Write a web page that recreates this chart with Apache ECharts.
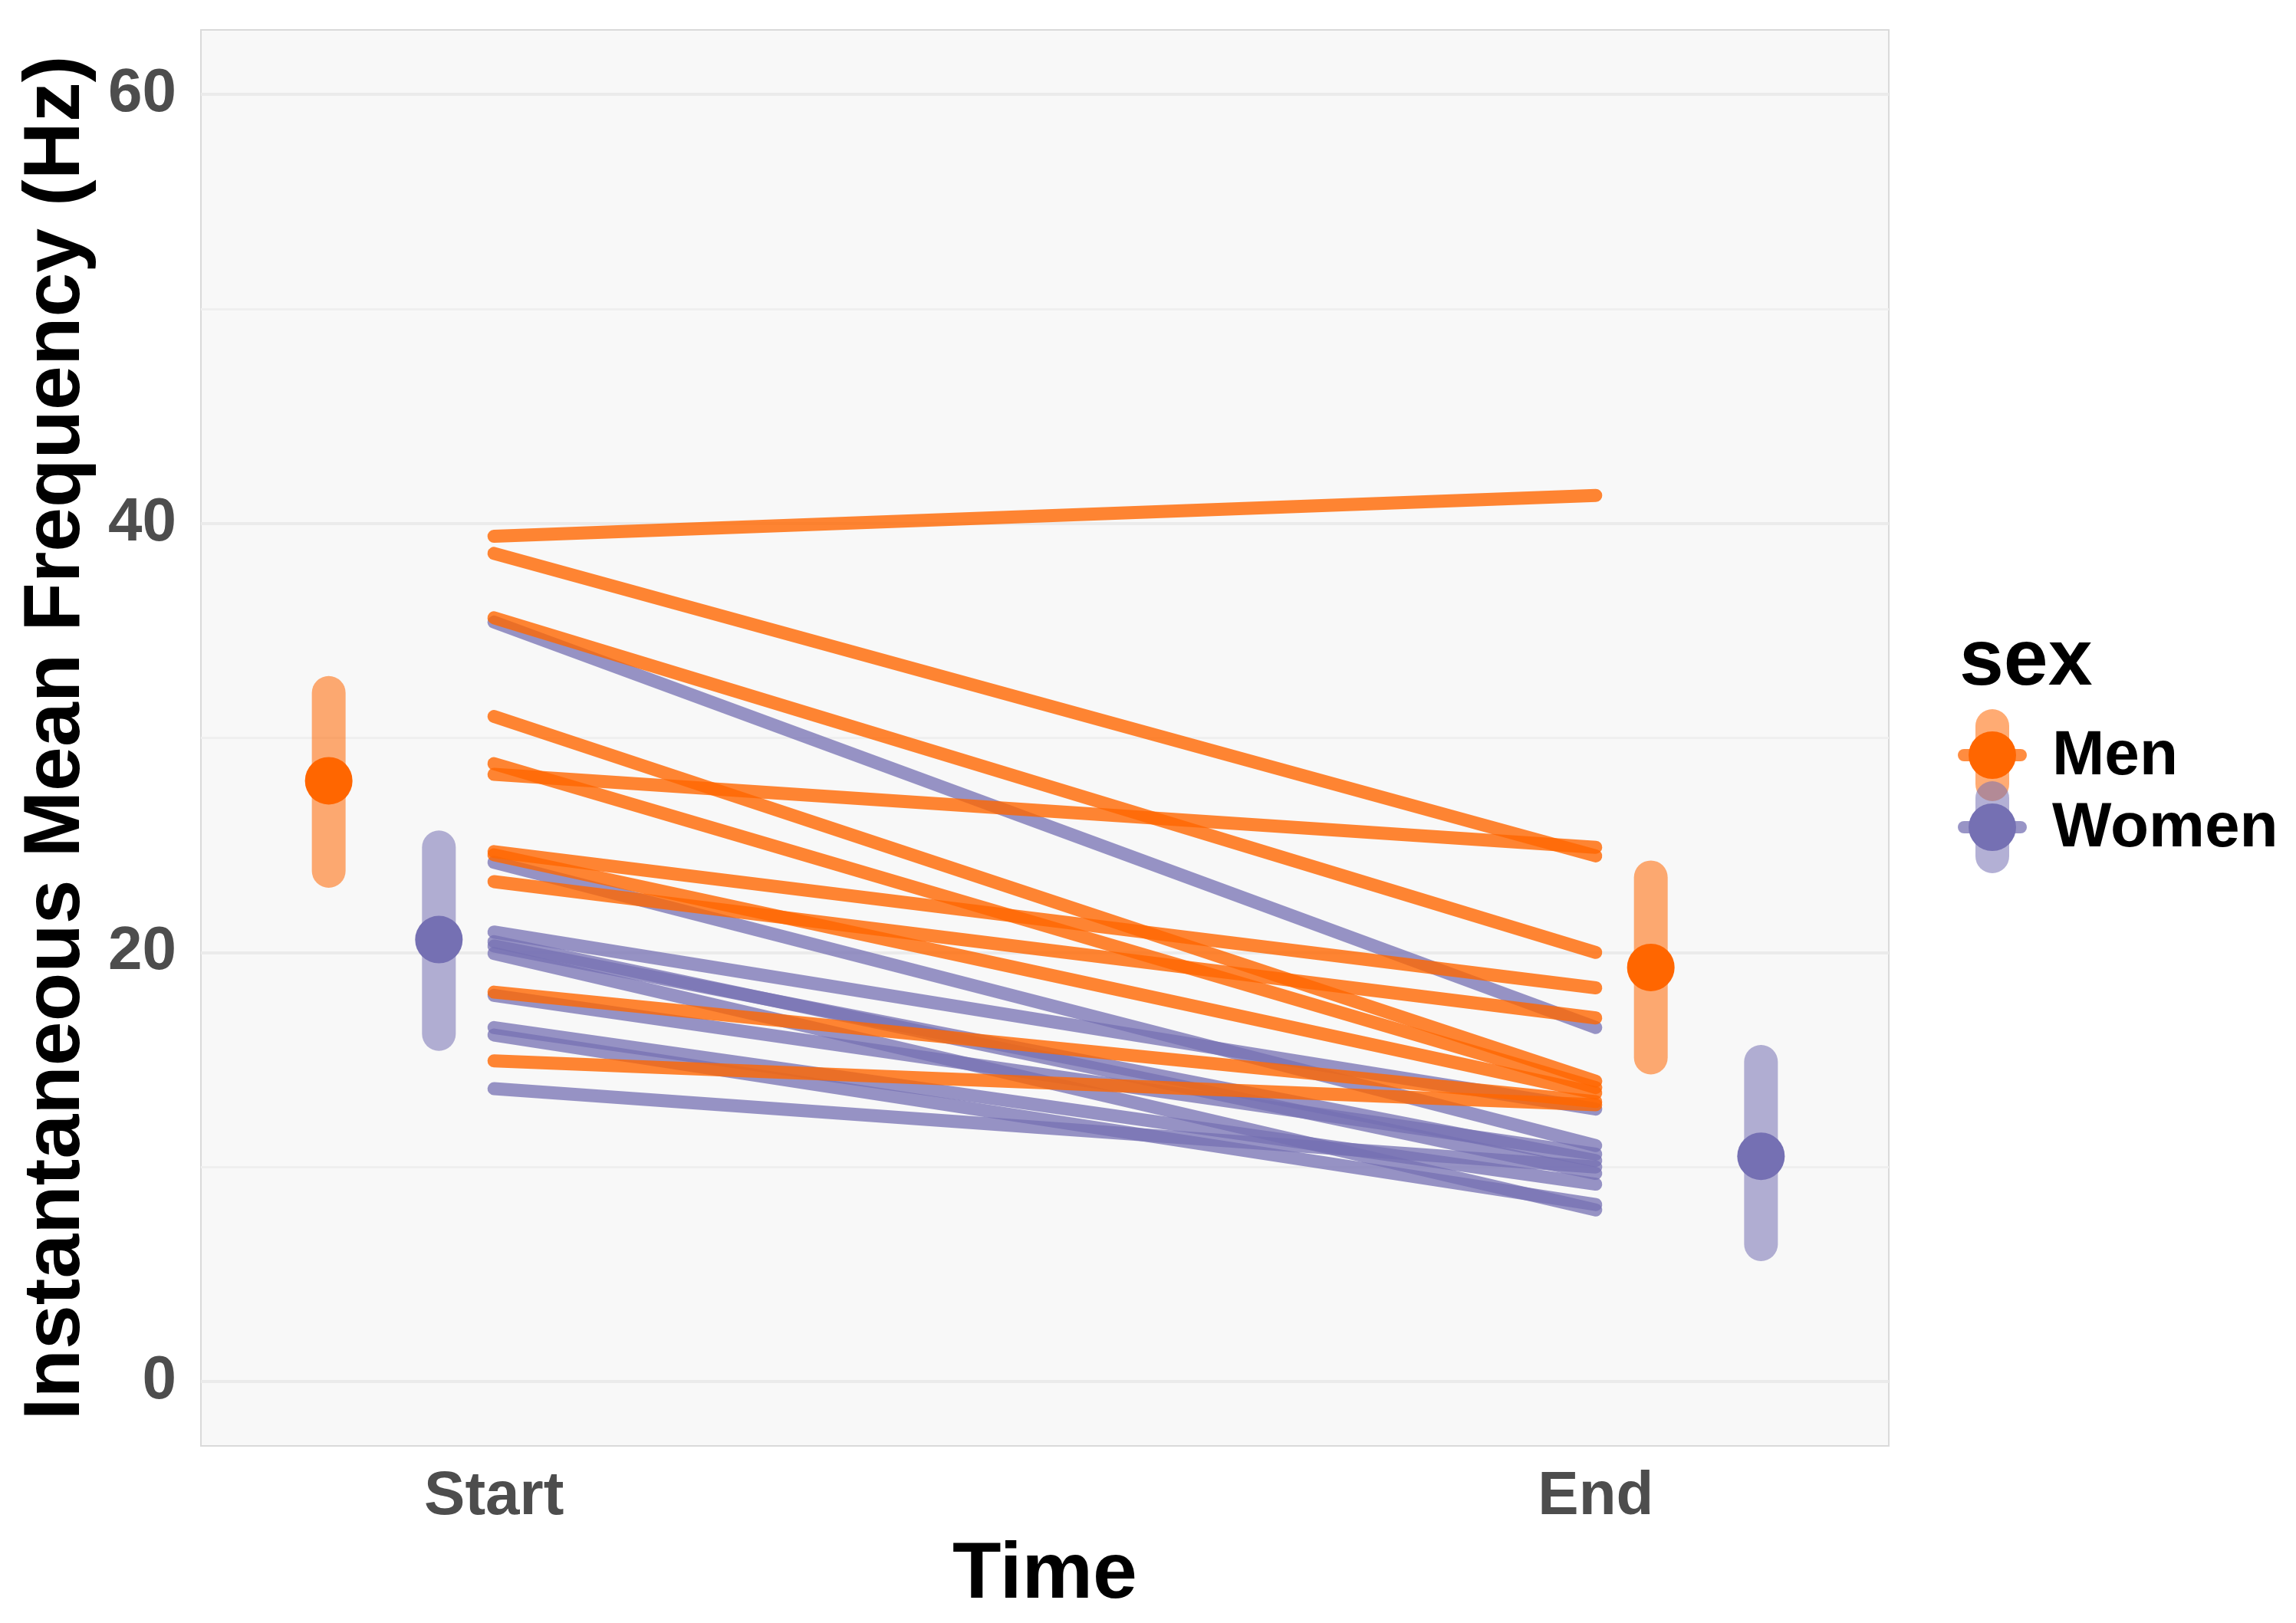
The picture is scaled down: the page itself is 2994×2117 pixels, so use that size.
<!DOCTYPE html>
<html>
<head>
<meta charset="utf-8">
<script src="https://cdn.jsdelivr.net/npm/echarts@6/dist/echarts.min.js"></script>
<style>
html,body{margin:0;padding:0;background:#fff;}
#chart{width:2994px;height:2117px;}
</style>
</head>
<body>
<div id="chart"></div>
<script>
// ---- data ----
const timeLabels = ['Start', 'End'];
const timePositions = [1, 2];
const yTickValues = [0, 20, 40, 60];
const gridValues = [0, 10, 20, 30, 40, 50, 60];

const menStart   = [39.4, 38.6, 35.6, 31.0, 28.8, 28.3, 24.7, 24.55, 23.3, 18.15, 14.95];
const menEnd     = [41.3, 24.5, 20.0, 14.0, 13.7, 24.9, 18.35, 13.45, 16.95, 13.05, 12.9];
const womenStart = [35.4, 24.2, 20.95, 20.5, 20.3, 19.95, 18.0, 16.5, 16.15, 13.65];
const womenEnd   = [16.5, 11.0, 12.7, 9.7, 10.3, 8.0, 10.6, 9.2, 8.25, 10.0];

// summary: mean, lower, upper at Start / End, with dodge offsets
const summaryOffset = { Men: [-0.15, 0.05], Women: [-0.05, 0.15] };
const menMean   = [28.0, 19.3];
const menLow    = [23.8, 15.1];
const menHigh   = [32.1, 23.5];
const womenMean = [20.6, 10.5];
const womenLow  = [16.2, 6.4];
const womenHigh = [24.9, 14.9];

// ---- style ----
const MEN = '#FF6600';
const WOMEN = '#7570B3';
const FONT = '"Liberation Sans", Arial, Helvetica, sans-serif';

const chart = echarts.init(document.getElementById('chart'), null, { renderer: 'canvas' });

const series = [];

// gridlines as markLines (major/minor), kept beneath the data
series.push({
  type: 'line', data: [], z: 1, silent: true,
  markLine: {
    silent: true, symbol: ['none', 'none'], animation: false, z: 1,
    label: { show: false },
    data: gridValues.map(v => ({
      yAxis: v,
      lineStyle: { type: 'solid', color: (v % 20 === 0) ? '#EBEBEB' : '#EFEFEF', width: (v % 20 === 0) ? 4 : 3 }
    }))
  }
});

function subjectLine(s, e, color, opacity) {
  return {
    type: 'line', z: 2, silent: true, symbol: 'none', clip: false,
    data: [[timePositions[0], s], [timePositions[1], e]],
    lineStyle: { color: color, width: 17, opacity: opacity, cap: 'round' }
  };
}
// interleave men and women subject lines
const nMax = Math.max(menStart.length, womenStart.length);
for (let i = 0; i < nMax; i++) {
  if (i < menStart.length) series.push(subjectLine(menStart[i], menEnd[i], MEN, 0.8));
  if (i < womenStart.length) series.push(subjectLine(womenStart[i], womenEnd[i], WOMEN, 0.75));
}

function summary(name, color, mean, low, high) {
  for (let k = 0; k < 2; k++) {
    const x = timePositions[k] + summaryOffset[name][k];
    series.push({
      type: 'line', z: 3, silent: true, symbol: 'none', clip: false,
      data: [[x, low[k]], [x, high[k]]],
      lineStyle: { color: color, width: 44, opacity: 0.55, cap: 'round' }
    });
  }
  series.push({
    type: 'scatter', name: name, z: 4, silent: true, clip: false,
    symbol: 'circle', symbolSize: 62,
    itemStyle: { color: color, opacity: 1 },
    data: [0, 1].map(k => [timePositions[k] + summaryOffset[name][k], mean[k]])
  });
}
summary('Men', MEN, menMean, menLow, menHigh);
summary('Women', WOMEN, womenMean, womenLow, womenHigh);

// legend drawn as graphic
const legendX = 2598;
const legendItems = [
  { label: 'Men', color: MEN, y: 985 },
  { label: 'Women', color: WOMEN, y: 1079 }
];
const graphic = [{
  type: 'text', x: 2555, y: 864, z: 10,
  style: { text: 'sex', font: 'bold 104px ' + FONT, fill: '#000', textAlign: 'left', textVerticalAlign: 'middle' }
}];
legendItems.forEach(it => {
  graphic.push({
    type: 'line', z: 10,
    shape: { x1: legendX, y1: it.y - 38, x2: legendX, y2: it.y + 38 },
    style: { stroke: it.color, lineWidth: 44, lineCap: 'round', opacity: 0.55 }
  });
  graphic.push({
    type: 'line', z: 11,
    shape: { x1: legendX - 37, y1: it.y, x2: legendX + 37, y2: it.y },
    style: { stroke: it.color, lineWidth: 16, lineCap: 'round', opacity: 0.75 }
  });
  graphic.push({
    type: 'circle', z: 12,
    shape: { cx: legendX, cy: it.y, r: 31 },
    style: { fill: it.color }
  });
  graphic.push({
    type: 'text', x: 2676, y: it.y + 2, z: 12,
    style: { text: it.label, font: 'bold 82px ' + FONT, fill: '#000', textAlign: 'left', textVerticalAlign: 'middle' }
  });
});

chart.setOption({
  animation: false,
  backgroundColor: '#FFFFFF',
  grid: {
    left: 262, right: 531, top: 39, bottom: 231,
    show: true, backgroundColor: '#F8F8F8', borderColor: '#DADADA', borderWidth: 2
  },
  xAxis: {
    type: 'value', min: 0.734, max: 2.266,
    name: 'Time', nameLocation: 'middle', nameGap: 117,
    nameTextStyle: { fontFamily: FONT, fontWeight: 'bold', fontSize: 104, color: '#000' },
    axisLine: { show: false }, axisTick: { show: false }, splitLine: { show: false },
    axisLabel: {
      customValues: timePositions,
      formatter: v => timeLabels[timePositions.indexOf(Math.round(v))] || '',
      fontFamily: FONT, fontWeight: 'bold', fontSize: 80, color: '#4D4D4D', margin: 27
    }
  },
  yAxis: {
    type: 'value', min: -3, max: 63,
    name: 'Instantaneous Mean Frequency (Hz)', nameLocation: 'middle', nameGap: 136,
    nameTextStyle: { fontFamily: FONT, fontWeight: 'bold', fontSize: 104, color: '#000' },
    axisLine: { show: false }, axisTick: { show: false }, splitLine: { show: false },
    axisLabel: {
      customValues: yTickValues,
      fontFamily: FONT, fontWeight: 'bold', fontSize: 80, color: '#4D4D4D', margin: 32
    }
  },
  series: series,
  graphic: graphic
});
</script>
</body>
</html>
